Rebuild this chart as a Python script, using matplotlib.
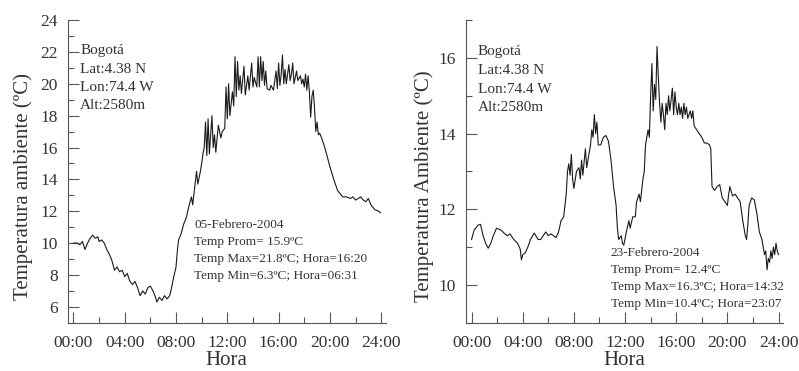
"""
Temperatura ambiente en Bogotá - dos días de febrero 2004
"""

import numpy as np
import matplotlib
matplotlib.use('Agg')
import matplotlib.pyplot as plt
from matplotlib.ticker import MultipleLocator, FuncFormatter

plt.rcParams['font.family'] = ['Liberation Serif', 'DejaVu Serif']

# ---- datos ----
dia1_hora = [0.0, 0.3, 0.5, 0.7, 0.9, 1.0, 1.1, 1.3, 1.5, 1.7,
             1.9, 2.0, 2.2, 2.4, 2.6, 2.8, 3.0, 3.2, 3.4, 3.6,
             3.8, 4.0, 4.2, 4.4, 4.6, 4.8, 5.0, 5.2, 5.4, 5.6,
             5.8, 6.0, 6.2, 6.4, 6.5, 6.7, 6.9, 7.1, 7.3, 7.5,
             7.6, 7.8, 8.0, 8.1, 8.2, 8.4, 8.6, 8.8, 9.0, 9.2,
             9.3, 9.5, 9.6, 9.7, 9.9, 10.0, 10.1, 10.2, 10.3, 10.4,
             10.5, 10.6, 10.8, 10.9, 11.0, 11.1, 11.3, 11.5, 11.6, 11.8,
             11.9, 12.0, 12.1, 12.2, 12.4, 12.5, 12.6, 12.7, 12.8, 12.9,
             13.0, 13.1, 13.3, 13.4, 13.6, 13.7, 13.9, 14.0, 14.1, 14.3,
             14.4, 14.5, 14.6, 14.7, 14.8, 14.9, 15.0, 15.1, 15.3, 15.4,
             15.6, 15.8, 15.9, 16.0, 16.1, 16.2, 16.3, 16.4, 16.5, 16.6,
             16.8, 16.9, 17.0, 17.1, 17.2, 17.4, 17.5, 17.7, 17.8, 17.9,
             18.0, 18.1, 18.2, 18.3, 18.4, 18.5, 18.6, 18.7, 18.8, 18.9,
             19.0, 19.1, 19.2, 19.4, 19.6, 19.8, 20.0, 20.3, 20.6, 21.0,
             21.3, 21.6, 21.8, 22.0, 22.2, 22.4, 22.6, 22.8, 23.0, 23.2,
             23.5, 23.8, 23.95]
dia1_temp = [10.0, 10.0, 9.9, 10.1, 9.6, 9.8, 10.0, 10.3, 10.5, 10.3,
             10.4, 10.1, 10.2, 10.0, 9.6, 9.3, 8.9, 8.3, 8.5, 8.2,
             8.3, 7.9, 8.1, 7.6, 7.4, 7.6, 7.2, 6.7, 7.0, 6.8,
             7.2, 7.3, 7.0, 6.6, 6.3, 6.6, 6.4, 6.7, 6.5, 6.7,
             7.0, 7.8, 8.5, 9.5, 10.2, 10.6, 11.2, 11.6, 12.3, 12.9,
             12.4, 13.8, 14.5, 13.7, 14.5, 15.0, 15.6, 16.0, 17.6, 15.5,
             17.8, 15.6, 18.0, 16.0, 16.8, 15.7, 17.4, 16.6, 17.0, 17.2,
             19.8, 17.8, 20.0, 18.0, 19.5, 18.6, 21.7, 19.2, 21.4, 19.6,
             20.5, 19.4, 21.1, 19.3, 20.5, 19.6, 21.3, 19.8, 20.4, 19.8,
             21.7, 19.8, 21.7, 20.2, 21.4, 19.9, 20.8, 19.7, 19.6, 19.9,
             19.6, 20.8, 19.7, 21.3, 19.9, 20.6, 21.8, 20.0, 20.9, 20.0,
             21.2, 20.2, 20.6, 21.3, 20.0, 20.8, 20.2, 20.5, 20.0, 20.3,
             19.8, 20.6, 19.6, 20.5, 19.5, 17.9, 19.2, 19.6, 18.5, 17.0,
             17.6, 16.8, 16.9, 16.5, 16.0, 15.4, 14.8, 14.0, 13.3, 12.9,
             12.9, 12.8, 12.9, 12.7, 12.8, 12.9, 12.7, 12.6, 12.8, 12.4,
             12.1, 12.0, 11.9]

dia2_hora = [0.0, 0.2, 0.5, 0.7, 0.9, 1.1, 1.3, 1.5, 1.7, 1.95,
             2.3, 2.6, 2.8, 3.0, 3.3, 3.6, 3.8, 3.9, 4.0, 4.2,
             4.4, 4.6, 4.9, 5.2, 5.4, 5.6, 5.8, 6.0, 6.2, 6.4,
             6.6, 6.8, 7.0, 7.2, 7.4, 7.5, 7.6, 7.7, 7.8, 7.9,
             8.0, 8.2, 8.4, 8.5, 8.6, 8.7, 8.9, 9.0, 9.2, 9.3,
             9.4, 9.5, 9.6, 9.7, 9.8, 9.9, 10.1, 10.3, 10.5, 10.7,
             10.9, 11.1, 11.3, 11.4, 11.5, 11.7, 11.8, 11.9, 12.1, 12.3,
             12.4, 12.6, 12.8, 12.9, 13.1, 13.2, 13.4, 13.5, 13.6, 13.8,
             13.9, 14.0, 14.1, 14.2, 14.3, 14.4, 14.5, 14.6, 14.7, 14.8,
             14.9, 15.0, 15.1, 15.2, 15.3, 15.4, 15.5, 15.6, 15.7, 15.8,
             15.9, 16.0, 16.1, 16.2, 16.3, 16.4, 16.5, 16.6, 16.7, 16.8,
             16.9, 17.1, 17.2, 17.3, 17.4, 17.6, 17.8, 18.0, 18.2, 18.4,
             18.6, 18.7, 18.8, 19.0, 19.2, 19.4, 19.6, 19.8, 20.0, 20.1,
             20.2, 20.4, 20.6, 20.8, 21.0, 21.2, 21.4, 21.5, 21.6, 21.7,
             21.9, 22.1, 22.3, 22.5, 22.7, 22.9, 23.0, 23.1, 23.2, 23.3,
             23.4, 23.5, 23.6, 23.7, 23.8, 23.9, 24.0]
dia2_temp = [11.2, 11.45, 11.58, 11.6, 11.3, 11.1, 10.97, 11.1, 11.3, 11.5,
             11.45, 11.35, 11.3, 11.35, 11.2, 11.1, 10.95, 10.66, 10.8, 10.85,
             11.0, 11.2, 11.37, 11.2, 11.2, 11.3, 11.4, 11.3, 11.35, 11.3,
             11.25, 11.4, 11.7, 11.8, 12.4, 13.0, 13.2, 12.9, 13.45, 12.8,
             12.55, 13.0, 13.1, 12.8, 13.3, 12.9, 13.6, 13.1, 13.5, 13.7,
             14.1, 13.9, 14.5, 14.0, 14.3, 13.7, 13.7, 13.9, 13.95, 13.8,
             13.3, 12.6, 12.1, 11.5, 11.2, 11.3, 11.1, 11.05, 11.4, 11.7,
             11.5, 11.8, 11.8, 12.2, 12.4, 12.2, 12.8, 13.0, 13.7, 14.1,
             13.9, 15.0, 15.85, 14.6, 15.3, 14.9, 16.3, 15.5, 14.8, 14.3,
             14.8, 14.5, 14.1, 14.8, 14.5, 15.0, 14.6, 14.9, 15.2, 14.5,
             15.1, 14.7, 14.5, 14.8, 14.5, 14.7, 14.4, 14.8, 14.5, 14.7,
             14.4, 14.6, 14.4, 14.6, 14.2, 14.1, 14.0, 13.9, 13.75, 13.75,
             13.7, 13.6, 12.6, 12.5, 12.6, 12.65, 12.3, 12.2, 12.1, 12.4,
             12.6, 12.35, 12.4, 12.3, 12.2, 11.7, 11.3, 11.2, 11.6, 12.1,
             12.3, 12.25, 11.9, 11.4, 11.2, 10.8, 10.9, 10.4, 10.7, 10.6,
             10.9, 10.7, 11.0, 10.8, 11.1, 10.9, 10.8]

info_sitio = ['Bogotá', 'Lat:4.38 N', 'Lon:74.4 W', 'Alt:2580m']
info_dia1 = ['05-Febrero-2004', 'Temp Prom= 15.9ºC',
             'Temp Max=21.8ºC; Hora=16:20', 'Temp Min=6.3ºC; Hora=06:31']
info_dia2 = ['23-Febrero-2004', 'Temp Prom= 12.4ºC',
             'Temp Max=16.3ºC; Hora=14:32', 'Temp Min=10.4ºC; Hora=23:07']

TXT = '#333333'


def hora_fmt(v, pos):
    return f'{int(round(v)):02d}:00'


def formatear(ax, ylim, ymaj, ylabel, lx):
    ax.set_xlim(-0.45, 24.35)
    ax.set_ylim(*ylim)
    for s in ['top', 'right']:
        ax.spines[s].set_visible(False)
    for s in ['left', 'bottom']:
        ax.spines[s].set_color('#555555')
        ax.spines[s].set_linewidth(0.8)
    ax.xaxis.set_major_locator(MultipleLocator(4))
    ax.xaxis.set_minor_locator(MultipleLocator(2))
    ax.xaxis.set_major_formatter(FuncFormatter(hora_fmt))
    ax.yaxis.set_major_locator(MultipleLocator(ymaj))
    ax.yaxis.set_minor_locator(MultipleLocator(1))
    ax.tick_params(axis='x', which='both', direction='in', colors='#555555',
                   labelcolor=TXT, labelsize=12.5, pad=9)
    ax.tick_params(axis='x', which='major', length=8, width=0.8)
    ax.tick_params(axis='x', which='minor', length=4, width=0.8)
    ax.tick_params(axis='y', which='both', direction='in', colors='#555555',
                   labelcolor=TXT, labelsize=12.5, pad=7)
    ax.tick_params(axis='y', which='major', length=8, width=0.8)
    ax.tick_params(axis='y', which='minor', length=4, width=0.8)
    ax.set_xlabel('Hora', fontsize=15, color=TXT, labelpad=0)
    ax.set_ylabel(ylabel, fontsize=15, color=TXT)
    ax.yaxis.set_label_coords(lx, 0.45)


fig = plt.figure(figsize=(7.99, 3.71), dpi=100)
ax1 = fig.add_axes([0.0847, 0.130, 0.398, 0.816])
ax2 = fig.add_axes([0.583, 0.130, 0.397, 0.816])

ax1.plot(dia1_hora, dia1_temp, color='#1a1a1a', linewidth=0.8)
ax2.plot(dia2_hora, dia2_temp, color='#1a1a1a', linewidth=0.8)

formatear(ax1, (5, 24), 2, 'Temperatura ambiente (ºC)', -0.11)
formatear(ax2, (9, 17), 2, 'Temperatura Ambiente (ºC)', -0.10)

# textos
for i, t in enumerate(info_sitio):
    ax1.text(0.039, 0.898 - i * 0.060, t, transform=ax1.transAxes,
             fontsize=11, color=TXT, va='center', ha='left')
    ax2.text(0.038, 0.896 - i * 0.062, t, transform=ax2.transAxes,
             fontsize=11, color=TXT, va='center', ha='left')
for i, t in enumerate(info_dia1):
    ax1.text(0.398, 0.323 - i * 0.056, t, transform=ax1.transAxes,
             fontsize=9.5, color=TXT, va='center', ha='left')
for i, t in enumerate(info_dia2):
    ax2.text(0.457, 0.229 - i * 0.056, t, transform=ax2.transAxes,
             fontsize=9.5, color=TXT, va='center', ha='left')

plt.savefig('out.png', dpi=100)
plt.close()
